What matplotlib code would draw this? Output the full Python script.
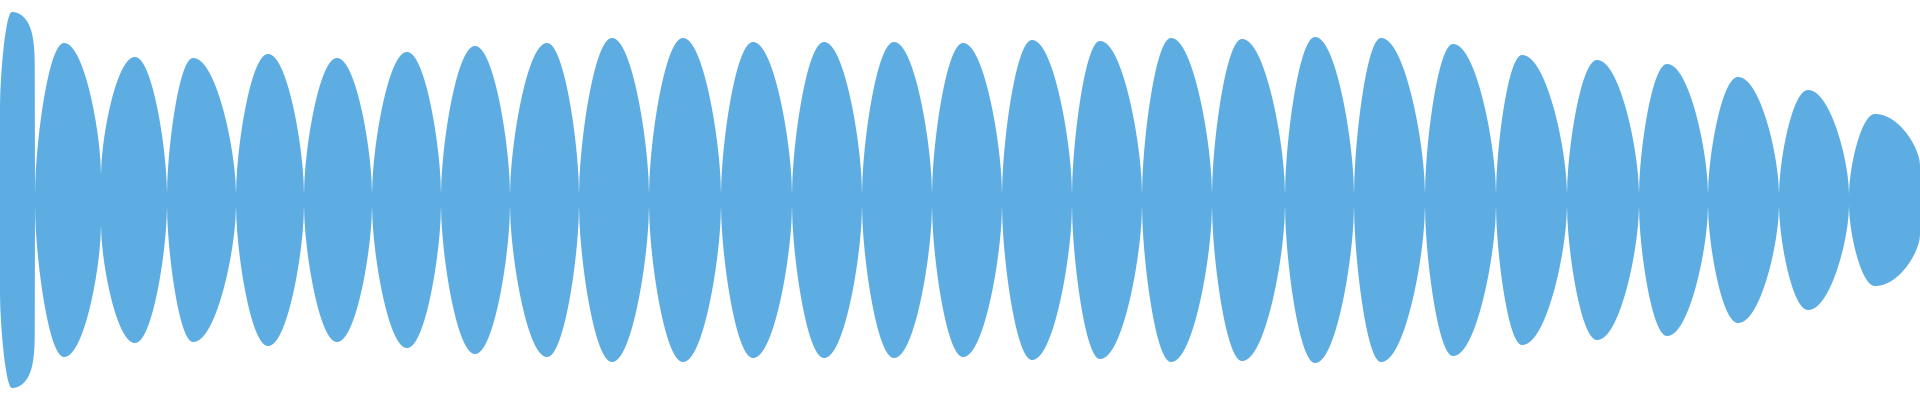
import numpy as np
import matplotlib.pyplot as plt

# envelope (x in samples, amplitude half-height)
neck_x = [0, 35, 101, 167, 236, 304, 372, 441, 510, 579, 649, 721, 792, 862, 932,
          1002, 1072, 1142, 1212, 1285, 1354, 1425, 1496, 1567, 1639, 1708, 1779, 1849, 1920]
neck_amp = [93, 6, 25, 6, 6, 6, 6, 6, 6, 6, 6, 6, 6, 6, 6,
            6, 6, 6, 6, 6, 6, 6, 6, 6, 6, 6, 6, 6, 35]
peak_x = [12, 64, 135, 193, 268, 337, 407, 475, 547, 612, 683, 753, 824, 894,
          963, 1032, 1100, 1171, 1242, 1315, 1381, 1453, 1522, 1597, 1667, 1738, 1808, 1875]
peak_amp = [188, 157, 143, 142, 146, 142, 148, 154, 157, 162, 162, 158, 158, 158,
            157, 160, 159, 162, 161, 163, 162, 156, 145, 140, 136, 123, 110, 86]

xs = []
env = []
for i in range(len(peak_x)):
	x0, x1, xp = neck_x[i], neck_x[i + 1], peak_x[i]
	a0, a1, ap = neck_amp[i], neck_amp[i + 1], peak_amp[i]
	p = 0.08 if i == 0 else 0.6
	t = np.linspace(0, 1, 80, endpoint=False)
	xs.append(x0 + (xp - x0) * t)
	env.append(a0 + (ap - a0) * np.sin(t * np.pi / 2) ** 0.6)
	xs.append(xp + (x1 - xp) * t)
	env.append(a1 + (ap - a1) * np.cos(t * np.pi / 2) ** p)
xs.append([neck_x[-1]])
env.append([neck_amp[-1]])
xs = np.concatenate(xs)
env = np.concatenate(env)

fig = plt.figure(figsize=(19.2, 4), dpi=100)
ax = fig.add_axes([0, 0, 1, 1])
ax.fill_between(xs, -env, env, color='#5DADE2', linewidth=0)
ax.set_xlim(0, 1920)
ax.set_ylim(-200, 200)
ax.axis('off')
plt.savefig('out.png')
